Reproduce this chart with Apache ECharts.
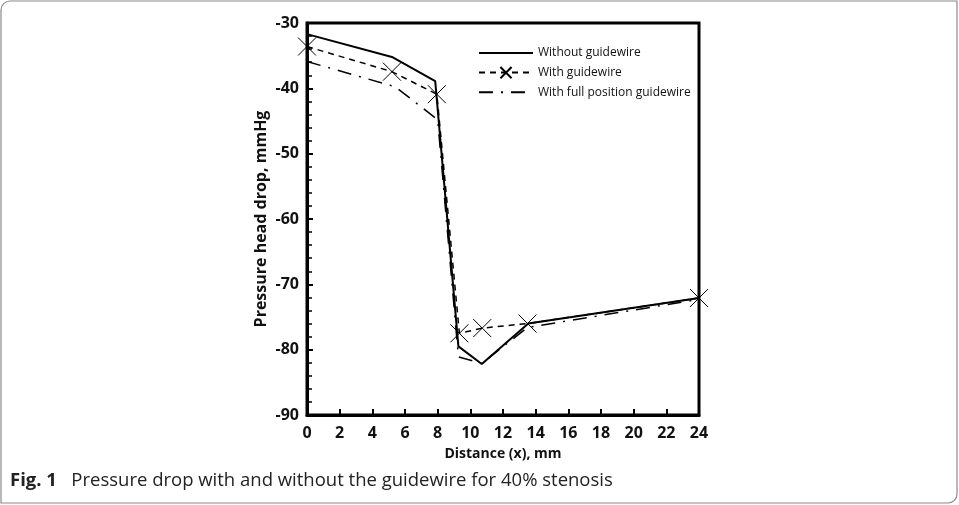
<!DOCTYPE html>
<html>
<head>
<meta charset="utf-8">
<script src="https://cdn.jsdelivr.net/npm/echarts@6/dist/echarts.min.js"></script>
<style>html,body{margin:0;padding:0;background:#fff;}#c{width:959px;height:505px;}</style>
</head>
<body>
<div id="c"></div>
<script>
const xTicks = [0, 24, 2];
const yTicks = [-90, -30, 10];
const seriesNames = ['Without guidewire', 'With guidewire', 'With full position guidewire'];
const xWithout = [0, 5.2, 7.85, 9.27, 10.7, 13.55, 24];
const yWithout = [-31.7, -35.2, -38.9, -79.5, -82.2, -76.0, -72.1];
const xWith = [0, 5.2, 7.95, 9.33, 10.73, 13.5, 24];
const yWith = [-33.6, -37.45, -40.9, -77.5, -76.7, -76.0, -72.1];
const xFull = [0, 5.4, 8.0, 9.27, 10.7, 13.5, 24];
const yFull = [-35.9, -39.75, -44.8, -81.1, -82.1, -76.6, -72.3];
const caption = ['Fig. 1', 'Pressure drop with and without the guidewire for 40% stenosis'];

const pair = (xs, ys) => xs.map((x, i) => [x, ys[i]]);
const FONT = '"Open Sans", "Liberation Sans", sans-serif';
const chart = echarts.init(document.getElementById('c'));
chart.setOption({
  animation: false,
  backgroundColor: '#fff',
  grid: { left: 307, right: 260, top: 23, bottom: 90, show: true, borderColor: '#000', borderWidth: 3, containLabel: false },
  legend: {
    orient: 'vertical', left: 473, top: 42, itemWidth: 54, itemHeight: 14, itemGap: 7,
    textStyle: { fontFamily: FONT, fontSize: 12, color: '#111' },
    data: [
      { name: seriesNames[0], itemStyle: { opacity: 0 } },
      { name: seriesNames[1] },
      { name: seriesNames[2], itemStyle: { opacity: 0 } }
    ]
  },
  xAxis: {
    type: 'value', min: xTicks[0], max: xTicks[1], interval: xTicks[2],
    name: 'Distance (x), mm', nameLocation: 'middle', nameGap: 32,
    nameTextStyle: { fontFamily: FONT, fontWeight: 'bold', fontSize: 14, color: '#111' },
    axisLine: { lineStyle: { color: '#000', width: 3 } },
    axisTick: { inside: true, length: 6, lineStyle: { color: '#000', width: 2 } },
    axisLabel: { fontFamily: FONT, fontWeight: 'bold', fontSize: 16, color: '#111', margin: 10 },
    splitLine: { show: false }
  },
  yAxis: {
    type: 'value', min: yTicks[0], max: yTicks[1], interval: yTicks[2],
    name: 'Pressure head drop, mmHg', nameLocation: 'middle', nameGap: 38,
    nameTextStyle: { fontFamily: FONT, fontWeight: 'bold', fontSize: 16, color: '#111' },
    axisLine: { lineStyle: { color: '#000', width: 3 } },
    axisTick: { inside: true, length: 6, lineStyle: { color: '#000', width: 2 } },
    minorTick: { show: true, splitNumber: 5, length: 5, lineStyle: { color: '#000', width: 1.5 } },
    axisLabel: { fontFamily: FONT, fontWeight: 'bold', fontSize: 16, color: '#111', margin: 8 },
    splitLine: { show: false }
  },
  series: [
    { name: seriesNames[0], type: 'line', data: pair(xWithout, yWithout), showSymbol: false, symbol: 'none',
      lineStyle: { color: '#000', width: 2 }, itemStyle: { color: '#000' } },
    { name: seriesNames[1], type: 'line', data: pair(xWith, yWith),
      symbol: 'path://M0,0L10,10M10,0L0,10', symbolSize: 18, showSymbol: true,
      itemStyle: { color: 'rgba(0,0,0,0)', borderColor: '#000', borderWidth: 1 },
      lineStyle: { color: '#000', width: 1.5, type: [6, 5] } },
    { name: seriesNames[2], type: 'line', data: pair(xFull, yFull), showSymbol: false, symbol: 'none',
      lineStyle: { color: '#000', width: 1.5, type: [14, 8, 2, 8] }, itemStyle: { color: '#000' } }
  ],
  graphic: [
    { type: 'rect', shape: { x: 1, y: 1, width: 956, height: 502, r: [9, 0, 9, 0] },
      style: { fill: 'none', stroke: '#8a8a8a', lineWidth: 1.2 }, silent: true },
    { type: 'text', left: 10, top: 471,
      style: { text: '{b|' + caption[0] + '}   ' + caption[1], fontFamily: FONT,
        fontSize: 18.5, fill: '#222',
        rich: { b: { fontWeight: 'bold', fontSize: 18.5, fill: '#222', fontFamily: FONT } } } }
  ]
});
</script>
</body>
</html>
